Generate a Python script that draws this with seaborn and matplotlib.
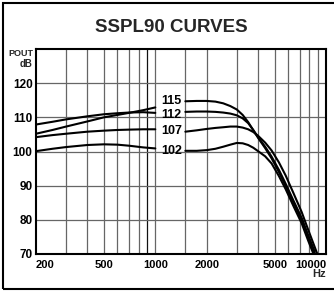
import matplotlib
matplotlib.use("Agg")
import matplotlib.pyplot as plt
from matplotlib.patches import Rectangle
from matplotlib.ticker import NullLocator
import seaborn as sns
import pandas as pd

# ---- data -------------------------------------------------------------
freq_left = [200, 250, 300, 400, 500, 600, 700, 850, 1000]
db115_left = [105.2, 106.3, 107.3, 108.8, 110.0, 110.7, 111.3, 112.1, 112.9]
db112_left = [107.9, 108.7, 109.4, 110.3, 110.9, 111.2, 111.4, 111.5, 111.3]
db107_left = [104.2, 104.8, 105.2, 105.8, 106.1, 106.3, 106.4, 106.5, 106.5]
db102_left = [100.1, 100.8, 101.3, 101.9, 102.1, 102.0, 101.7, 101.2, 100.9]

freq_right = [1500, 1750, 2000, 2250, 2500, 2750, 3000, 3250, 3500, 3750,
              4000, 4400, 4800, 5300, 5800, 6450, 7200, 7850, 8600]
db115_right = [114.7, 114.8, 114.8, 114.6, 114.1, 113.3, 112.3, 110.7, 108.6, 106.2,
               104.0, 101.0, 98.0, 94.0, 90.0, 85.0, 80.0, 75.0, 70.0]
db112_right = [111.6, 111.7, 111.7, 111.6, 111.4, 111.1, 110.6, 109.7, 108.3, 106.3,
               104.2, 101.4, 98.5, 94.6, 90.6, 85.6, 80.6, 75.6, 70.6]
db102_right = [100.2, 100.2, 100.4, 100.8, 101.4, 102.0, 102.5, 102.4, 101.9, 101.1,
               100.1, 98.6, 96.5, 92.8, 89.0, 84.0, 79.0, 74.0, 69.0]
freq107_right = [1500, 1750, 2000, 2250, 2500, 2750, 3000, 3250, 3500, 3750,
                 4000, 4400, 4800, 5300, 5800, 6450, 7200, 7850, 8900]
db107_right = [105.8, 106.2, 106.6, 106.9, 107.1, 107.3, 107.3, 107.0, 106.5, 105.7,
               104.6, 102.6, 100.3, 96.8, 93.0, 87.8, 82.3, 77.2, 70.0]

curve_labels = ["115", "112", "107", "102"]
label_db = [114.9, 110.6, 106.0, 100.1]
label_freq = 1240

y_ticks = [70, 80, 90, 100, 110, 120]
x_tick_vals = [200, 500, 1000, 2000, 5000, 10000]
x_tick_labels = ["200", "500", "1000", "2000", "5000", "10000"]
grid_freqs = [300, 400, 500, 600, 700, 800, 900, 1000, 1500, 2000,
              3000, 4000, 5000, 6000, 7000, 8000, 9000]
grid_db = [80, 90, 100, 110, 120]

# ---- build long table ---------------------------------------------------
rows = []
segs = [
    ("115", "L", freq_left, db115_left), ("115", "R", freq_right, db115_right),
    ("112", "L", freq_left, db112_left), ("112", "R", freq_right, db112_right),
    ("107", "L", freq_left, db107_left), ("107", "R", freq107_right, db107_right),
    ("102", "L", freq_left, db102_left), ("102", "R", freq_right, db102_right),
]
for name, side, fs, ds in segs:
    for f, d in zip(fs, ds):
        rows.append({"freq": f, "db": d, "curve": name, "seg": name + side})
df = pd.DataFrame(rows)

# ---- figure -------------------------------------------------------------
sns.set_theme(style="white")
plt.rcParams["font.family"] = ["Liberation Sans", "DejaVu Sans"]

W, H = 334, 293
fig = plt.figure(figsize=(W / 100, H / 100), dpi=100)
ax = fig.add_axes([36 / W, 1 - 254 / H, (326 - 36) / W, (254 - 49) / H])
ax.set_xscale("log")
ax.set_xlim(200, 10000)
ax.set_ylim(70, 130)

for g in grid_freqs:
    ax.axvline(g, color="#111111" if g == 900 else "#666666", lw=0.9, zorder=1)
for g in grid_db:
    ax.axhline(g, color="#666666", lw=0.9, zorder=1)

sns.lineplot(data=df, x="freq", y="db", units="seg", estimator=None,
             sort=False, color="black", lw=1.5, ax=ax, zorder=3, legend=False)

for lab, yv in zip(curve_labels, label_db):
    ax.text(label_freq, yv, lab, ha="center", va="center", fontsize=9,
            fontweight="bold", color="black", zorder=4)

ax.xaxis.set_minor_locator(NullLocator())
ax.yaxis.set_minor_locator(NullLocator())
ax.set_yticks(y_ticks)
ax.set_yticklabels([str(v) for v in y_ticks], fontsize=8.5, fontweight="bold")
ax.set_xticks(x_tick_vals)
ax.set_xticklabels(x_tick_labels, fontsize=8, fontweight="bold",
                   family=["Liberation Sans Narrow", "Liberation Sans", "DejaVu Sans"])
ax.tick_params(axis="both", length=0, colors="black")
ax.tick_params(axis="y", pad=2.5)
ax.tick_params(axis="x", pad=4)
tl = ax.get_xticklabels()
tl[0].set_ha("left")
tl[-1].set_ha("right")
ax.set_xlabel("")
ax.set_ylabel("")

for s in ax.spines.values():
    s.set_color("black")
    s.set_linewidth(1.5)
    s.set_zorder(5)

fig.text(171 / W, 1 - 28 / H, "SSPL90 CURVES", ha="center", va="center",
         fontsize=13.5, fontweight="bold")
fig.text(33 / W, 1 - 53 / H, "POUT", ha="right", va="center", fontsize=6.5,
         fontweight="bold")
fig.text(33 / W, 1 - 64 / H, "dB", ha="right", va="center", fontsize=7,
         fontweight="bold")
fig.text(326 / W, 1 - 274 / H, "Hz", ha="right", va="center", fontsize=8,
         fontweight="bold", family=["Liberation Sans Narrow", "Liberation Sans", "DejaVu Sans"])

fig.add_artist(Rectangle((3 / W, (H - 289) / H), 1.0, 286 / H,
                         transform=fig.transFigure, fill=False,
                         ec="black", lw=1.5))

fig.savefig("out.png", dpi=100)
